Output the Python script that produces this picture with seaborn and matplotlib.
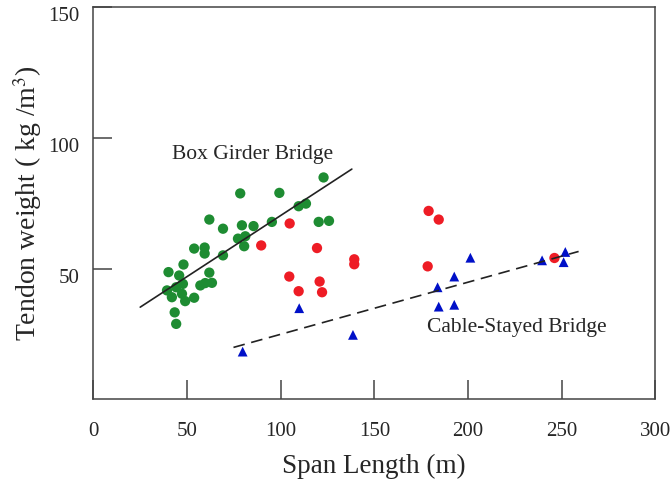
import numpy as np
import pandas as pd
import matplotlib
matplotlib.use('Agg')
import matplotlib.pyplot as plt
import seaborn as sns

# box girder bridges (green)
box_span = [122.9, 78.4, 99.3, 109.6, 113.5, 61.9, 79.3, 85.5, 95.3, 120.3, 125.8, 69.2,
            77.2, 81.1, 80.5, 53.8, 59.4, 59.4, 69.2, 40.1, 48.1, 45.8, 61.9, 57.1, 59.7,
            63.3, 39.3, 44.2, 47.8, 41.9, 47.3, 49.0, 53.8, 43.4, 44.2]
box_wt = [84.9, 78.8, 79.0, 73.9, 74.9, 68.8, 66.6, 66.3, 67.9, 67.9, 68.3, 65.3,
          61.5, 62.4, 58.6, 57.7, 58.1, 55.8, 55.1, 48.7, 51.6, 47.4, 48.5, 43.6, 44.5,
          44.6, 41.7, 42.9, 44.2, 39.1, 40.4, 37.6, 38.9, 33.3, 28.9]

# other bridges (red)
red_span = [104.8, 89.6, 119.4, 139.3, 139.3, 104.6, 120.8, 109.6, 122.1, 179.0, 184.4, 178.5, 246.2]
red_wt = [67.3, 58.9, 57.9, 53.6, 51.7, 47.0, 45.1, 41.4, 41.0, 72.1, 68.8, 50.9, 54.1]

# cable-stayed bridges (blue)
cable_span = [79.7, 109.9, 138.6, 183.8, 184.4, 192.7, 192.7, 201.3, 239.6, 252.0, 251.1]
cable_wt = [18.3, 34.9, 24.7, 42.9, 35.5, 47.0, 36.2, 54.2, 53.2, 56.4, 52.5]

# trend lines
box_fit_x = [25, 138]
box_fit_y = [35.3, 88.1]
cable_fit_x = [74.8, 259.1]
cable_fit_y = [19.9, 56.6]

sns.set_style('ticks')
plt.rcParams['font.family'] = ['Liberation Serif', 'DejaVu Serif']
plt.rcParams['mathtext.fontset'] = 'stix'

fig = plt.figure(figsize=(6.72, 4.83), dpi=100)
ax = fig.add_axes([0.139, 0.173, 0.836, 0.812])

sns.scatterplot(x=box_span, y=box_wt, color='#1e8c32', s=55, marker='o', edgecolor='none', ax=ax)
sns.scatterplot(x=red_span, y=red_wt, color='#ee1c25', s=55, marker='o', edgecolor='none', ax=ax)
sns.scatterplot(x=cable_span, y=cable_wt, color='#0010c8', s=50, marker='^', edgecolor='none', ax=ax)

sns.lineplot(x=box_fit_x, y=box_fit_y, color='#222222', lw=1.2, ax=ax)
ax.plot(cable_fit_x, cable_fit_y, color='#222222', lw=1.2, dashes=(7, 4))

ax.text(42, 93.5, 'Box Girder Bridge', fontsize=15.5, va='center', ha='left')
ax.text(178, 27.5, 'Cable-Stayed Bridge', fontsize=15.5, va='center', ha='left')

ax.set_xlim(0, 300)
ax.set_ylim(0, 150)
ax.set_xticks([0, 50, 100, 150, 200, 250, 300])
ax.set_yticks([50, 100, 150])
ax.tick_params(direction='in', length=13.5, width=1.1, labelsize=15, color='#444444')
ax.tick_params(axis='x', pad=16.5)
ax.tick_params(axis='y', pad=10)
for lbl in ax.get_yticklabels():
    lbl.set_va('top')
for sp in ax.spines.values():
    sp.set_linewidth(1.1)
    sp.set_color('#444444')

ax.set_xlabel('Span Length (m)', fontsize=19.5, labelpad=9)
ax.set_ylabel('Tendon weight ( kg /m$^3$)', fontsize=20, labelpad=3)

fig.savefig('out.png', dpi=100)
